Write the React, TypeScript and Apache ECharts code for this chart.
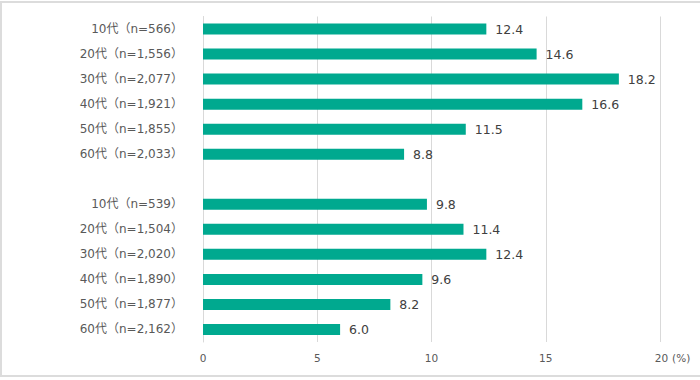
import React, { useEffect, useRef } from "react";
import * as echarts from "echarts";

const categories: string[] = [
  "10代（n=566）",
  "20代（n=1,556）",
  "30代（n=2,077）",
  "40代（n=1,921）",
  "50代（n=1,855）",
  "60代（n=2,033）",
  "",
  "10代（n=539）",
  "20代（n=1,504）",
  "30代（n=2,020）",
  "40代（n=1,890）",
  "50代（n=1,877）",
  "60代（n=2,162）",
];

const values: (number | string)[] = [12.4, 14.6, 18.2, 16.6, 11.5, 8.8, "-", 9.8, 11.4, 12.4, 9.6, 8.2, 6.0];

const xTicks = { min: 0, max: 20, interval: 5 };
const unitLabel = "(%)";

const FONT = '"DejaVu Sans", "Noto Sans CJK JP", sans-serif';

export default function App() {
  const ref = useRef<HTMLDivElement>(null);
  useEffect(() => {
    document.body.style.margin = "0";
    if (!ref.current) return;
    const chart = echarts.init(ref.current, undefined, { renderer: "svg" });
    const tickStyle = { color: "#595959", fontSize: 10.5, fontFamily: FONT };
    chart.setOption({
      animation: false,
      backgroundColor: "#ffffff",
      textStyle: { fontFamily: FONT },
      grid: { left: 203, right: 40, top: 16.5, bottom: 38, containLabel: false },
      graphic: [
        {
          type: "rect",
          shape: { x: 1, y: 2, width: 720, height: 374 },
          style: { fill: "none", stroke: "#dcdcdc", lineWidth: 2 },
          silent: true,
          z: -1,
        },
      ],
      xAxis: {
        type: "value",
        min: xTicks.min,
        max: xTicks.max,
        interval: xTicks.interval,
        axisLine: { show: false },
        axisTick: { show: false },
        splitLine: { show: true, lineStyle: { color: "#d9d9d9", width: 1 } },
        axisLabel: {
          ...tickStyle,
          margin: 11,
          formatter: (v: number) => (v === xTicks.max ? `{pad|}{n|${v}}{u|${unitLabel}}` : `${v}`),
          rich: {
            pad: { ...tickStyle, width: 25 },
            n: { ...tickStyle },
            u: { ...tickStyle, padding: [0, 0, 0, 4] },
          },
        },
      },
      yAxis: {
        type: "category",
        data: categories,
        inverse: true,
        axisLine: { show: true, lineStyle: { color: "#d9d9d9", width: 1 } },
        axisTick: { show: false },
        axisLabel: { color: "#595959", fontSize: 12, fontFamily: FONT, margin: 20 },
      },
      series: [
        {
          type: "bar",
          data: values,
          barWidth: 11,
          itemStyle: { color: "#00a98f" },
          label: {
            show: true,
            position: "right",
            distance: 9,
            color: "#404040",
            fontSize: 12.5,
            fontFamily: FONT,
            formatter: (p: any) => (typeof p.value === "number" ? p.value.toFixed(1) : ""),
          },
        },
      ],
    });
    return () => chart.dispose();
  }, []);
  return <div ref={ref} style={{ width: 700, height: 380 }} />;
}
